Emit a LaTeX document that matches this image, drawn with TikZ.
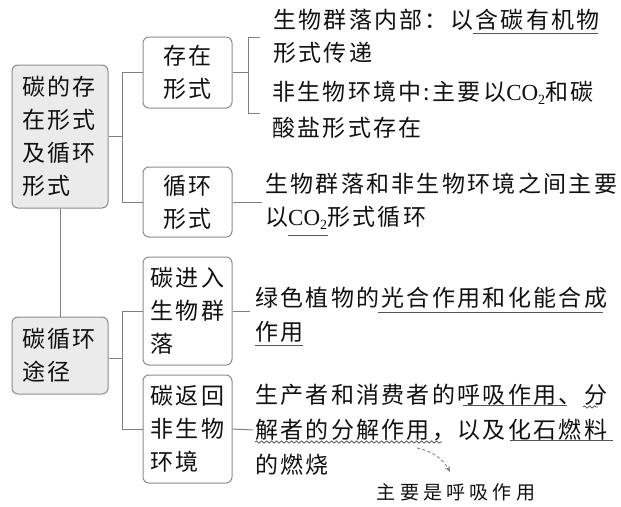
\documentclass[tikz,border=0pt]{standalone}
\usepackage{fontspec}
\usetikzlibrary{decorations.pathmorphing,arrows.meta,calc}
\newfontfamily\cjk[LetterSpace=10]{Noto Sans CJK SC}
\newfontfamily\latin{Liberation Serif}
\newfontfamily\notefont[LetterSpace=22]{Noto Sans CJK SC}
\newcommand\cotwo{{\latin\fontsize{23}{23}\selectfont CO\raisebox{-4pt}{\fontsize{14}{14}\selectfont 2}}}
\definecolor{ln}{HTML}{808080}
\definecolor{bx}{HTML}{8C8C8C}
\definecolor{fl}{HTML}{EBEBEB}
\definecolor{tx}{HTML}{111111}
\definecolor{ul}{HTML}{555555}
\tikzset{
  conn/.style={draw=ln, line width=1pt},
  mainbox/.style={draw=bx, fill=fl, rounded corners=6pt, line width=1pt,
    text width=76pt, align=left, inner sep=0pt,
    font=\cjk\fontsize{23}{33}\selectfont, text=tx},
  subbox/.style={draw=bx, fill=white, rounded corners=6pt, line width=1pt,
    text width=74pt, inner sep=0pt, minimum width=89pt,
    font=\cjk\fontsize{23}{33}\selectfont, text=tx},
  txtline/.style={anchor=west, inner sep=0pt, text height=20pt, text depth=3pt,
    font=\cjk\fontsize{23}{23}\selectfont, text=tx},
  uline/.style={draw=ul, line width=1pt},
  wave/.style={draw=ul, line width=0.8pt, decorate,
    decoration={snake, amplitude=1.1pt, segment length=5pt}},
  notearrow/.style={draw=ln, line width=0.9pt, dash pattern=on 3pt off 2.5pt,
    -{Stealth[length=6pt,width=5pt]}},
}
\begin{document}
\begin{tikzpicture}[x=1pt,y=-1pt]
\useasboundingbox (0,0) rectangle (621,506);

% main boxes
\node[mainbox, minimum width=96pt, minimum height=143pt] (m1) at (60,136.5)
  {碳的存\\在形式\\及循环\\形式};
\node[mainbox, minimum width=96pt, minimum height=77pt] (m2) at (60,355.5)
  {碳循环\\途径};

% sub boxes
\node[subbox, align=center, minimum height=71pt] (a) at (187.5,72.5) {存在\\形式};
\node[subbox, align=center, minimum height=70pt] (b) at (187.5,202) {循环\\形式};
\node[subbox, align=left, minimum height=108pt] (c) at (187.5,311) {碳进入\\生物群\\落};
\node[subbox, align=left, minimum height=108pt] (d) at (187.5,429) {碳返回\\非生物\\环境};

% junction coordinates
\coordinate (j1) at (122,136);
\coordinate (j2) at (122,358);

% tree connectors
\draw[conn] (m1.south) -- (m2.north);
\draw[conn] (m1.east |- j1) -- (j1);
\draw[conn] (a.west) -- (a.west -| j1) -- (b.west -| j1) -- (b.west);
\draw[conn] (m2.east |- j2) -- (j2);
\draw[conn] (c.west) -- (c.west -| j2) -- (d.west -| j2) -- (d.west);

% text lines
\node[txtline] (tA1) at (273,20) {生物群落内部：以含碳有机物};
\node[txtline] (tA2) at (273,53) {形式传递};
\node[txtline] (tA3) at (272,92) {非生物环境中:主要以\cotwo 和碳};
\node[txtline] (tA4) at (272,128) {酸盐形式存在};
\node[txtline] (tB1) at (265,184) {生物群落和非生物环境之间主要};
\node[txtline] (tB2) at (265,217) {以\cotwo 形式循环};
\node[txtline] (tC1) at (255,298) {绿色植物的光合作用和化能合成};
\node[txtline] (tC2) at (255,332) {作用};
\node[txtline] (tD1) at (255,395) {生产者和消费者的呼吸作用、分};
\node[txtline] (tD2) at (255,430) {解者的分解作用，以及化石燃料};
\node[txtline] (tD3) at (255,465) {的燃烧};
\node[inner sep=0pt, text height=16pt, text depth=3pt, text=tx,
  font=\notefont\fontsize{19}{19}\selectfont] (note) at (456,493) {主要是呼吸作用};

% connectors from boxes to texts
\coordinate (bA) at (248,72.5);
\draw[conn] (a.east) -- (bA);
\draw[conn] (260,37) -- (248,37) -- (248,113) -- (260,113);
\draw[conn] (b.east) -- (262,202);
\draw[conn] (c.east) -- (250,311);
\draw[conn] (d.east) -- (253,430);

% underlines
\draw[uline] (473,33) -- (598,33);
\draw[uline] (288,235) -- (328,235);
\draw[uline] (378,312) -- (603,312);
\draw[uline] (255,345) -- (303,345);
\draw[uline] (463,405) -- (567,405);
\draw[uline] (510,440) -- (613,440);
\draw[wave] (583,407) -- (598,407);
\draw[wave] (255,442) -- (442,442);

% annotation arrow
\coordinate (ns) at (417,448);
\coordinate (ne) at (450,472);
\draw[notearrow] (ns) .. controls (432,451) and (443,459) .. (ne);
\end{tikzpicture}
\end{document}
